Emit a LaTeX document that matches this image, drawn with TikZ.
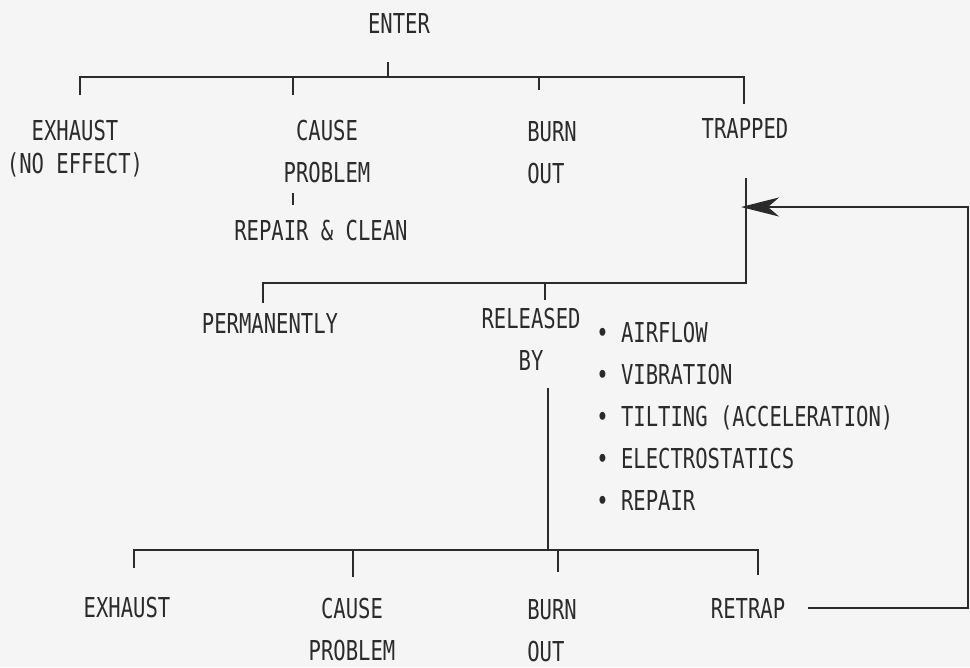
\documentclass[tikz,border=0pt]{standalone}
\usepackage{fontspec}
\newfontfamily\plotfont{DejaVu Sans Mono}[FakeStretch=0.75]
\usepackage{xcolor}
\definecolor{inkgray}{HTML}{2B2B2B}
\definecolor{papergray}{HTML}{F5F5F5}
\usetikzlibrary{arrows.meta,positioning,calc}

\begin{document}
\begin{tikzpicture}[x=0.02cm,y=-0.02cm,>=Stealth]
\tikzset{
 lbl/.style={font={\plotfont\fontsize{15.6}{23.9}\selectfont},text=inkgray,inner sep=0pt,align=center,anchor=base},
 tree/.style={draw=inkgray,line width=1.1pt},
 arrow/.style={tree,-{Stealth[length=7.6mm,width=3.8mm,inset=2.2mm]}}
}
\fill[papergray] (0,0) rectangle (970,667);
\node[lbl] (enter) at (399,33) {ENTER};
\node[lbl] (exhaust) at (75,173) {EXHAUST\\[-0.18cm](NO EFFECT)};
\node[lbl] (cause) at (327,182) {CAUSE\\PROBLEM};
\node[lbl,align=left,anchor=base west] (burn) at (527,183) {BURN\\OUT};
\node[lbl] (trapped) at (745,138) {TRAPPED};
\node[lbl] (repair) at (321,240) {REPAIR \& CLEAN};
\coordinate (enterfoot) at (388,62);
\coordinate (topbar) at (388,77);
\coordinate (a1) at (80,95);
\coordinate (a2) at (293,95);
\coordinate (a3) at (539,90);
\coordinate (a4) at (744,104);
\draw[tree] (enterfoot) -- (topbar);
\draw[tree] (a1) -- (a1 |- topbar) -- (a4 |- topbar) -- (a4);
\draw[tree] (a2) -- (a2 |- topbar);
\draw[tree] (a3) -- (a3 |- topbar);
\coordinate (fixtop) at (293,193);
\coordinate (fixbot) at (293,205);
\draw[tree] (fixtop) -- (fixbot);
\node[lbl] (perm) at (270,333) {PERMANENTLY};
\node[lbl] (released) at (531,370) {RELEASED\\BY};
\node[lbl,align=left,anchor=base west] (means) at (596,510)
 {\textbullet\ AIRFLOW\\\textbullet\ VIBRATION\\\textbullet\ TILTING (ACCELERATION)\\\textbullet\ ELECTROSTATICS\\\textbullet\ REPAIR};
\coordinate (trapfoot) at (746,178);
\coordinate (midbar) at (746,283);
\coordinate (b1) at (263,303);
\coordinate (b2) at (545,300);
\draw[tree] (trapfoot) -- (midbar) -- (b1 |- midbar) -- (b1);
\draw[tree] (b2) -- (b2 |- midbar);
\node[lbl] (exhaust2) at (127,617) {EXHAUST};
\node[lbl] (cause2) at (352,660) {CAUSE\\PROBLEM};
\node[lbl,align=left,anchor=base west] (burn2) at (527,661) {BURN\\OUT};
\node[lbl] (retrap) at (748,618) {RETRAP};
\coordinate (stem) at (548,388);
\coordinate (lowbar) at (548,550);
\coordinate (c1) at (134,568);
\coordinate (c2) at (353,577);
\coordinate (c3) at (558,572);
\coordinate (c4) at (758,575);
\draw[tree] (stem) -- (lowbar);
\draw[tree] (c1) -- (c1 |- lowbar) -- (c4 |- lowbar) -- (c4);
\draw[tree] (c2) -- (c2 |- lowbar);
\draw[tree] (c3) -- (c3 |- lowbar);
\coordinate (loop) at (968,207);
\coordinate (trapin) at (741,207);
\draw[arrow] ($(retrap.east)+(23,0)$) -- (retrap.east -| loop) -- (loop) -- (trapin);
\end{tikzpicture}
\end{document}
